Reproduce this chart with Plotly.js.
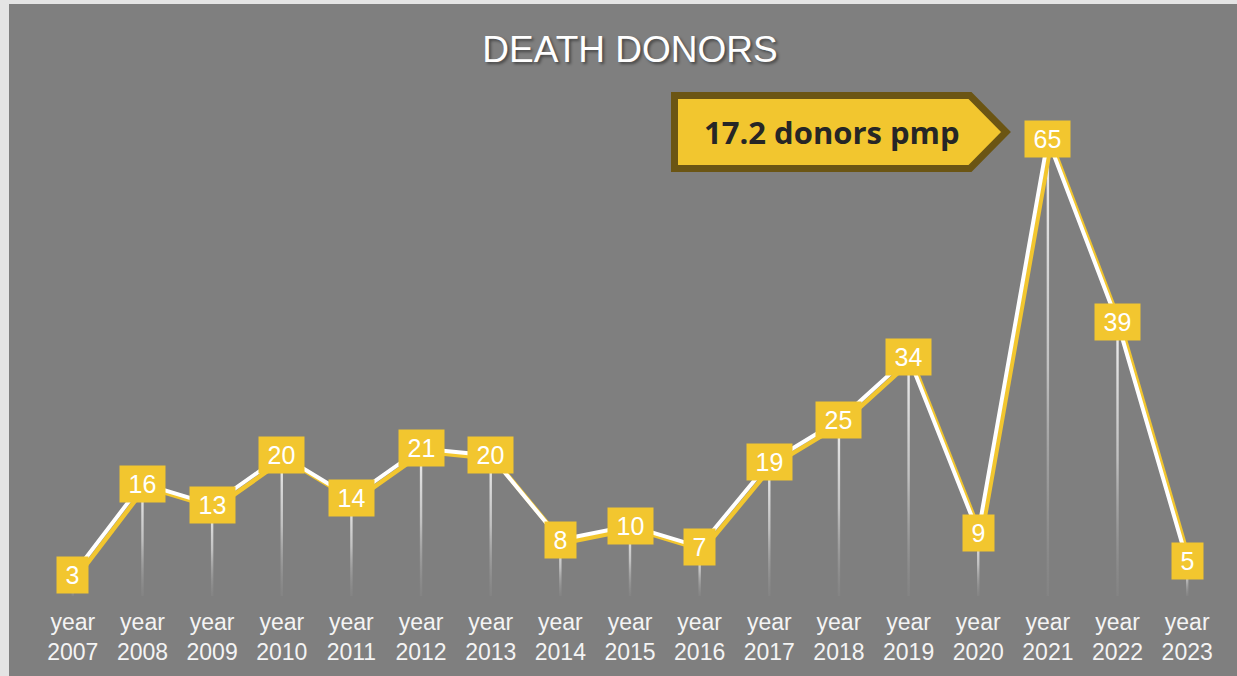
<!DOCTYPE html>
<html>
<head>
<meta charset="utf-8">
<script src="https://cdn.plot.ly/plotly-3.0.1.min.js"></script>
<style>
html,body{margin:0;padding:0;background:#e4e4e4;width:1237px;height:676px;overflow:hidden;}
#chart{position:absolute;left:9px;top:4px;width:1228px;height:672px;}
</style>
</head>
<body>
<div id="chart"></div>
<script>
const chartTitle = 'DEATH DONORS';
const years = ['2007','2008','2009','2010','2011','2012','2013','2014','2015','2016','2017','2018','2019','2020','2021','2022','2023'];
const donors = [3,16,13,20,14,21,20,8,10,7,19,25,34,9,65,39,5];
const tickLabels = years.map(y => 'year<br>' + y);
const calloutText = '17.2 donors pmp';

const idx = years.map((_, i) => i);
const yellow = '#f2c62f';
const plotW = 1184, plotH = 527;
const yMax = 75;
const pxX = plotW / years.length;
const pxY = plotH / yMax;
const half = 1.2 / pxX;

const traces = [];
// drop lines with vertical gradient
donors.forEach((v, i) => {
  traces.push({
    x: [i - half, i + half, i + half, i - half, i - half],
    y: [0, 0, v, v, 0],
    type: 'scatter', mode: 'none', fill: 'toself',
    fillgradient: {type: 'vertical', start: 0, stop: v,
      colorscale: [[0, 'rgba(150,150,150,0.2)'], [0.5, 'rgba(200,200,200,0.9)'], [1, 'rgba(240,240,240,1)']]},
    hoverinfo: 'skip', showlegend: false
  });
});
// yellow offset line (drawn below)
traces.push({x: idx, y: donors, type: 'scatter', mode: 'lines', xaxis: 'x2', yaxis: 'y2',
  line: {color: yellow, width: 4.5}, hoverinfo: 'skip', showlegend: false});
// white line (on top)
traces.push({x: idx, y: donors, type: 'scatter', mode: 'lines', xaxis: 'x3', yaxis: 'y3',
  line: {color: '#ffffff', width: 4}, hoverinfo: 'skip', showlegend: false});

const annotations = donors.map((v, i) => ({
  x: i, y: v, xref: 'x', yref: 'y', text: String(v), showarrow: false,
  xanchor: 'center', yanchor: 'middle',
  bgcolor: yellow, borderpad: 2,
  width: String(v).length === 1 ? 27 : 41, height: 32,
  font: {family: 'Liberation Sans, Arial, sans-serif', size: 25, color: '#ffffff'}
}));

// callout arrow box (page px -> paper)
const px = p => (p - 38) / plotW;
const py = p => (596 - p) / plotH;
const calloutPath = 'M' + px(674.5) + ',' + py(95.5) +
  ' L' + px(970) + ',' + py(95.5) +
  ' L' + px(1006) + ',' + py(132) +
  ' L' + px(970) + ',' + py(168.5) +
  ' L' + px(674.5) + ',' + py(168.5) + ' Z';

annotations.push({
  xref: 'paper', yref: 'paper', x: px(832), y: py(132), text: calloutText,
  showarrow: false, xanchor: 'center', yanchor: 'middle',
  font: {family: 'Open Sans, Lato, sans-serif', size: 31, color: '#262626', weight: 'bold'}
});

const dx = 3.2 / pxX, dy = 3.2 / pxY;

const layout = {
  width: 1228, height: 672,
  paper_bgcolor: '#7f7f7f', plot_bgcolor: '#7f7f7f',
  margin: {l: 29, r: 15, t: 65, b: 80},
  showlegend: false,
  title: {text: chartTitle, x: (630 - 9) / 1228, xanchor: 'center', y: 1 - 45 / 672, yanchor: 'middle', yref: 'container',
    font: {family: 'Liberation Sans, Arial, sans-serif', size: 37, color: '#ffffff', shadow: '2px 2px 3px rgba(0,0,0,0.45)'}},
  xaxis: {range: [-0.5, years.length - 0.5], tickvals: idx, ticktext: tickLabels,
    showgrid: false, zeroline: false, showline: false, ticks: '', fixedrange: true, ticklabelstandoff: 10,
    tickfont: {family: 'Liberation Sans, Arial, sans-serif', size: 23, color: '#f4f4f4'}},
  yaxis: {range: [0, yMax], visible: false, showgrid: false, zeroline: false, fixedrange: true},
  xaxis2: {overlaying: 'x', range: [-0.5 - dx, years.length - 0.5 - dx], visible: false, fixedrange: true},
  yaxis2: {overlaying: 'y', range: [dy, yMax + dy], visible: false, fixedrange: true},
  xaxis3: {overlaying: 'x', range: [-0.5, years.length - 0.5], visible: false, fixedrange: true},
  yaxis3: {overlaying: 'y', range: [0, yMax], visible: false, fixedrange: true},
  shapes: [{type: 'path', xref: 'paper', yref: 'paper', path: calloutPath,
    fillcolor: yellow, line: {color: '#6b5514', width: 7}, layer: 'above'}],
  annotations: annotations
};

Plotly.newPlot('chart', traces, layout, {displayModeBar: false, staticPlot: true});
</script>
</body>
</html>
